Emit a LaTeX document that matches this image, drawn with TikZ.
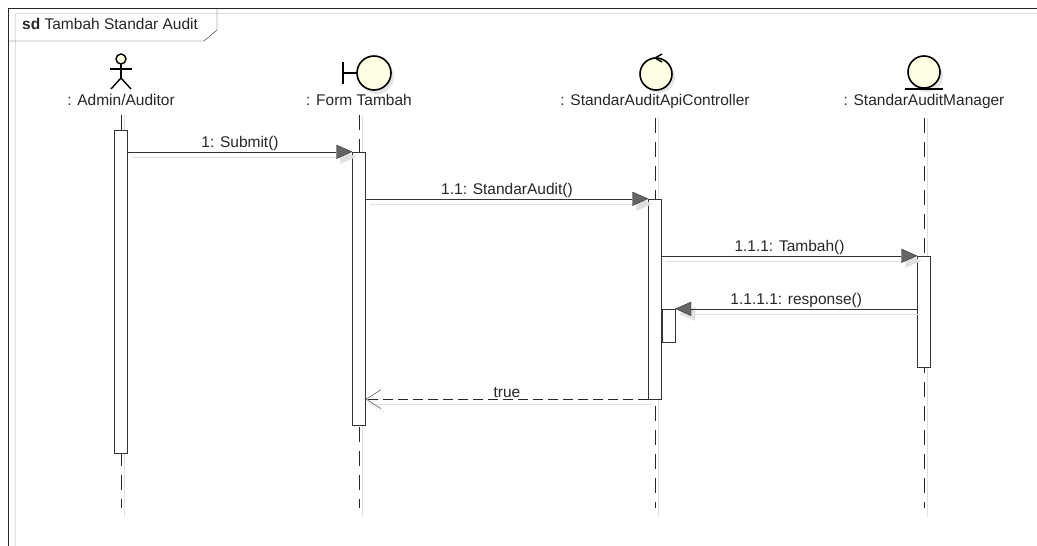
\documentclass[tikz,border=0pt]{standalone}
\usepackage{fontspec}
\setmainfont{Liberation Sans}
\usetikzlibrary{arrows.meta}
\definecolor{iconfill}{RGB}{255,255,227}
\tikzset{
  every node/.style={font=\fontsize{15.5}{18}\selectfont, text=black!85},
  act/.style={draw=black!80, fill=white, minimum width=13pt, inner sep=0pt},
  life/.style={draw=black!85, dash pattern=on 15pt off 9pt},
  lifeshade/.style={draw=black!12, transform canvas={shift={(3,0)}}},
  msg/.style={draw=black!80, -{Triangle[length=16pt,width=14pt,fill=black!60,color=black!85]}},
  msgshade/.style={draw=black!12, -{Triangle[length=16pt,width=14pt,fill=black!12]},
    transform canvas={shift={(4,5)}}},
  ret/.style={draw=black!85, dash pattern=on 10pt off 5pt,
    -{Straight Barb[length=15pt,width=19pt]}},
  retshade/.style={draw=black!12, -{Straight Barb[length=15pt,width=19pt]},
    transform canvas={shift={(4,5)}}},
  icon/.style={draw=black, line width=1.6pt, fill=iconfill},
  iconshade/.style={fill=black!10, draw=none}
}
\begin{document}
\begin{tikzpicture}[x=1pt,y=-1pt]
\useasboundingbox (0,0) rectangle (1037,546);

% frame
\draw[black!12] (15,546) -- (15,13) -- (1037,13);
\draw[black!85] (8,546) -- (8,8) -- (1037,8);
\draw[black!85] (8,41) -- (204,41) -- (217,30) -- (217,8);
\node[anchor=base west, inner sep=0pt] (title) at (22,30) {\textbf{sd} Tambah Standar Audit};

% actor
\draw[line width=1.4pt, fill=iconfill] (121,59) circle (5);
\draw[line width=1.4pt] (121,64) -- (121,78);
\draw[line width=1.4pt] (110,69) -- (132,69);
\draw[line width=1.4pt] (111,89) -- (121,78) -- (131,89);

% boundary
\fill[iconshade] (377,77) circle (17);
\draw[icon] (374,73) circle (17);
\draw[line width=1.6pt] (343,62) -- (343,84);
\draw[line width=1.6pt] (343,73) -- (357,73);

% control
\fill[iconshade] (659,77) circle (16);
\draw[icon] (656,74) circle (16);
\draw[line width=1.4pt] (662,54) -- (655,58) -- (662,62);

% entity
\fill[iconshade] (927,76) circle (16);
\draw[icon] (924,72) circle (16);
\draw[line width=1.6pt] (905,89) -- (943,89);

% lifeline labels
\node[anchor=base] (la) at (121,105) {: Admin/Auditor};
\node[anchor=base] (lf) at (359,105) {: Form Tambah};
\node[anchor=base] (lc) at (655,105) {: StandarAuditApiController};
\node[anchor=base] (lm) at (924,105) {: StandarAuditManager};

\coordinate (ae) at (121,508);
\coordinate (fe) at (359,508);
\coordinate (ce) at (655,508);
\coordinate (me) at (924,508);

% lifelines
\draw[lifeshade] ([yshift=-6pt]la.south) -- ([yshift=-9pt]ae);
\draw[lifeshade] ([yshift=-6pt]lf.south) -- ([yshift=-9pt]fe);
\draw[lifeshade] ([yshift=-6pt]lc.south) -- ([yshift=-9pt]ce);
\draw[lifeshade] ([yshift=-6pt]lm.south) -- ([yshift=-9pt]me);
\draw[life] ([yshift=-6pt]la.south) -- (ae);
\draw[life] ([yshift=-6pt]lf.south) -- (fe);
\draw[life] ([yshift=-6pt]lc.south) -- (ce);
\draw[life] ([yshift=-6pt]lm.south) -- (me);

% activations
\node[act, minimum height=323pt] (a1) at (121,291.5) {};
\node[act, minimum height=273pt] (f1) at (359,288.5) {};
\node[act, minimum height=200pt] (c1) at (655,299) {};
\node[act, minimum height=111pt] (m1) at (924,311.5) {};
\node[act, minimum height=33pt] (s1) at (668.5,325.5) {};

% messages
\draw[msgshade] (a1.east |- f1.north) -- (f1.north west);
\draw[msg] (a1.east |- f1.north) -- node[above, inner sep=1pt] {1: Submit()} (f1.north west);
\draw[msgshade] (f1.east |- c1.north) -- (c1.north west);
\draw[msg] (f1.east |- c1.north) -- node[above, inner sep=1pt] {1.1: StandarAudit()} (c1.north west);
\draw[msgshade] (c1.east |- m1.north) -- (m1.north west);
\draw[msg] (c1.east |- m1.north) -- node[above, inner sep=1pt] {1.1.1: Tambah()} (m1.north west);
\draw[msgshade] (m1.west |- s1.north) -- (s1.north east);
\draw[msg] (m1.west |- s1.north) -- node[above, inner sep=1pt] {1.1.1.1: response()} (s1.north east);
\draw[retshade] (c1.south west) -- (f1.east |- c1.south);
\draw[ret] (c1.south west) -- node[above, inner sep=1pt] {true} (f1.east |- c1.south);
\end{tikzpicture}
\end{document}
